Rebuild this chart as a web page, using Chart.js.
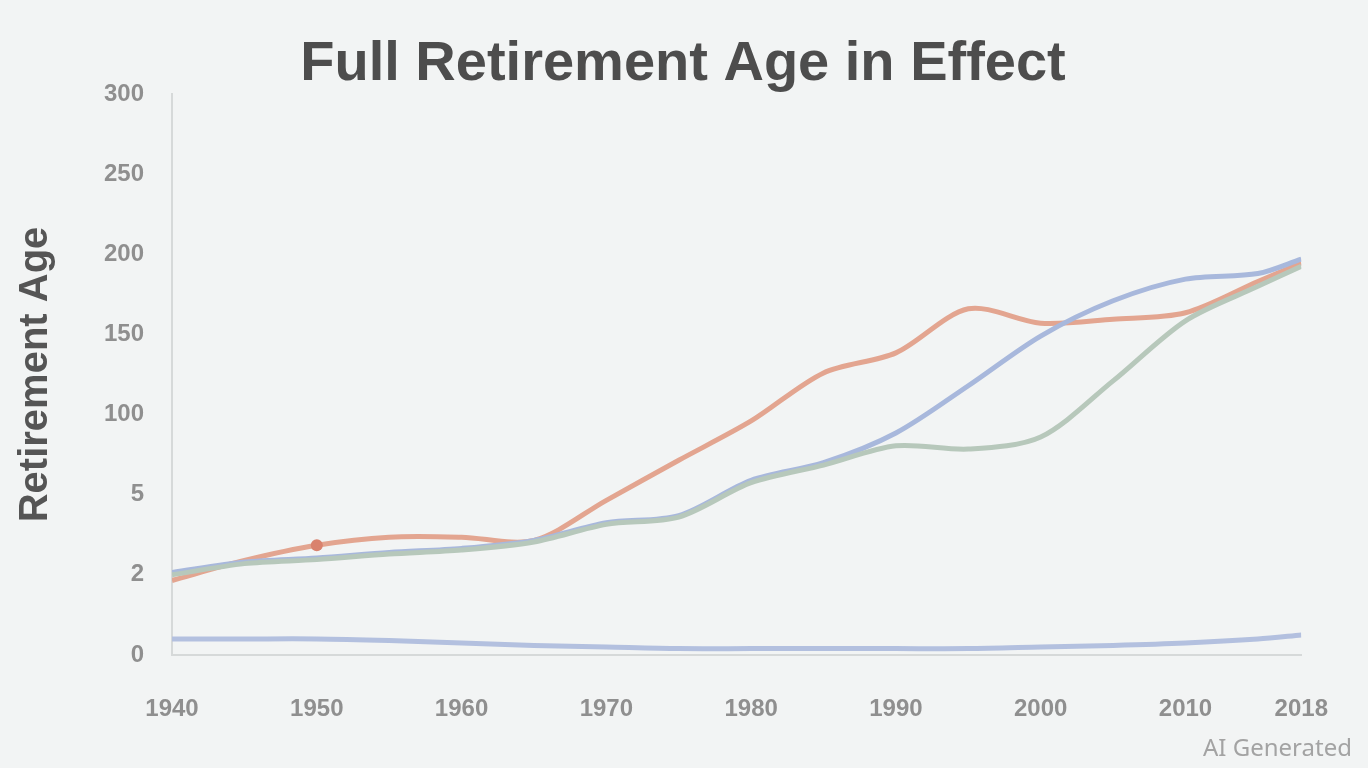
<!DOCTYPE html>
<html>
<head>
<meta charset="utf-8">
<script src="https://cdn.jsdelivr.net/npm/chart.js@4.4.1/dist/chart.umd.min.js"></script>
<style>
  html, body { margin: 0; padding: 0; background: #f2f4f4; }
  #wrap { position: relative; width: 1368px; height: 768px; }
  canvas { display: block; }
  #wm { position: absolute; left: 1203px; top: 730px; font: 24px "Noto Sans", "Open Sans", sans-serif; color: #a3a3a3; white-space: nowrap; }
</style>
</head>
<body>
<div id="wrap">
  <canvas id="c" width="1368" height="768"></canvas>
  <div id="wm">AI Generated</div>
</div>
<script>
const titleText = "Full Retirement Age in Effect";
const yAxisTitle = "Retirement Age";
const years = [1940, 1945, 1950, 1955, 1960, 1965, 1970, 1975, 1980, 1985, 1990, 1995, 2000, 2005, 2010, 2015, 2018];
const xTickValues = [1940, 1950, 1960, 1970, 1980, 1990, 2000, 2010, 2018];
const yTickLabels = ["0", "2", "5", "100", "150", "200", "250", "300"];
const seriesRed   = [0.93, 1.18, 1.37, 1.47, 1.47, 1.43, 1.93, 2.43, 2.92, 3.52, 3.77, 4.32, 4.14, 4.19, 4.27, 4.66, 4.89];
const seriesBlue  = [1.03, 1.16, 1.21, 1.28, 1.33, 1.43, 1.65, 1.74, 2.18, 2.40, 2.77, 3.36, 3.98, 4.42, 4.69, 4.76, 4.94];
const seriesGreen = [1.00, 1.14, 1.19, 1.26, 1.31, 1.41, 1.63, 1.72, 2.15, 2.37, 2.61, 2.57, 2.72, 3.42, 4.17, 4.60, 4.85];
const seriesBase  = [0.20, 0.20, 0.20, 0.18, 0.15, 0.12, 0.10, 0.08, 0.08, 0.08, 0.08, 0.08, 0.10, 0.12, 0.15, 0.20, 0.25];
const redMarkers  = [0, 0, 6, 0, 0, 0, 0, 0, 0, 0, 0, 0, 0, 0, 0, 0, 0];

const pts = arr => arr.map((v, i) => ({ x: years[i], y: v }));

const centeredTitle = {
  id: 'centeredTitle',
  afterDraw(chart) {
    const ctx = chart.ctx;
    ctx.save();
    ctx.font = 'bold 56px "Liberation Sans"';
    ctx.fillStyle = '#4d4d4d';
    ctx.textAlign = 'center';
    ctx.textBaseline = 'alphabetic';
    ctx.fillText(titleText, 683, 80);
    ctx.restore();
  }
};

new Chart(document.getElementById('c'), {
  type: 'line',
  data: {
    datasets: [
      { label: 'Base', data: pts(seriesBase), borderColor: '#b3c0df', borderWidth: 5, pointRadius: 0, tension: 0.3 },
      { label: 'Green', data: pts(seriesGreen), borderColor: '#b7c8bb', borderWidth: 5, pointRadius: 0, tension: 0.3 },
      { label: 'Blue', data: pts(seriesBlue), borderColor: '#a8b8dc', borderWidth: 5, pointRadius: 0, tension: 0.3 },
      { label: 'Red', data: pts(seriesRed), borderColor: '#e3a590', backgroundColor: '#d9826e', borderWidth: 5, pointRadius: redMarkers, pointBorderWidth: 0, tension: 0.3 }
    ]
  },
  plugins: [centeredTitle],
  options: {
    responsive: false,
    animation: false,
    layout: { padding: { left: 12, right: 62, top: 94, bottom: 0 } },
    plugins: {
      legend: { display: false },
      tooltip: { enabled: false },
      title: { display: false }
    },
    scales: {
      x: {
        type: 'linear',
        min: 1940,
        max: 2018,
        afterBuildTicks: s => { s.ticks = xTickValues.map(v => ({ value: v })); },
        afterFit: s => { s.height = 113; },
        grid: { display: false, drawTicks: false },
        border: { display: true, color: '#d6d9d9', width: 2 },
        ticks: {
          padding: 40,
          color: '#8f8f8f',
          font: { family: 'Liberation Sans', size: 24, weight: 'bold' },
          callback: v => String(v),
          maxRotation: 0
        }
      },
      y: {
        type: 'linear',
        min: 0,
        max: 7,
        afterBuildTicks: s => { s.ticks = yTickLabels.map((_, i) => ({ value: i })); },
        afterFit: s => { s.width = 160; },
        grid: { display: false, drawTicks: false },
        border: { display: true, color: '#d6d9d9', width: 2 },
        title: {
          display: true,
          text: yAxisTitle,
          color: '#555555',
          font: { family: 'Liberation Sans', size: 40, weight: 'bold' },
          padding: { top: 0, bottom: 12 }
        },
        ticks: {
          padding: 28,
          color: '#8f8f8f',
          font: { family: 'Liberation Sans', size: 24, weight: 'bold' },
          callback: (v, i) => yTickLabels[i]
        }
      }
    }
  }
});
</script>
</body>
</html>
